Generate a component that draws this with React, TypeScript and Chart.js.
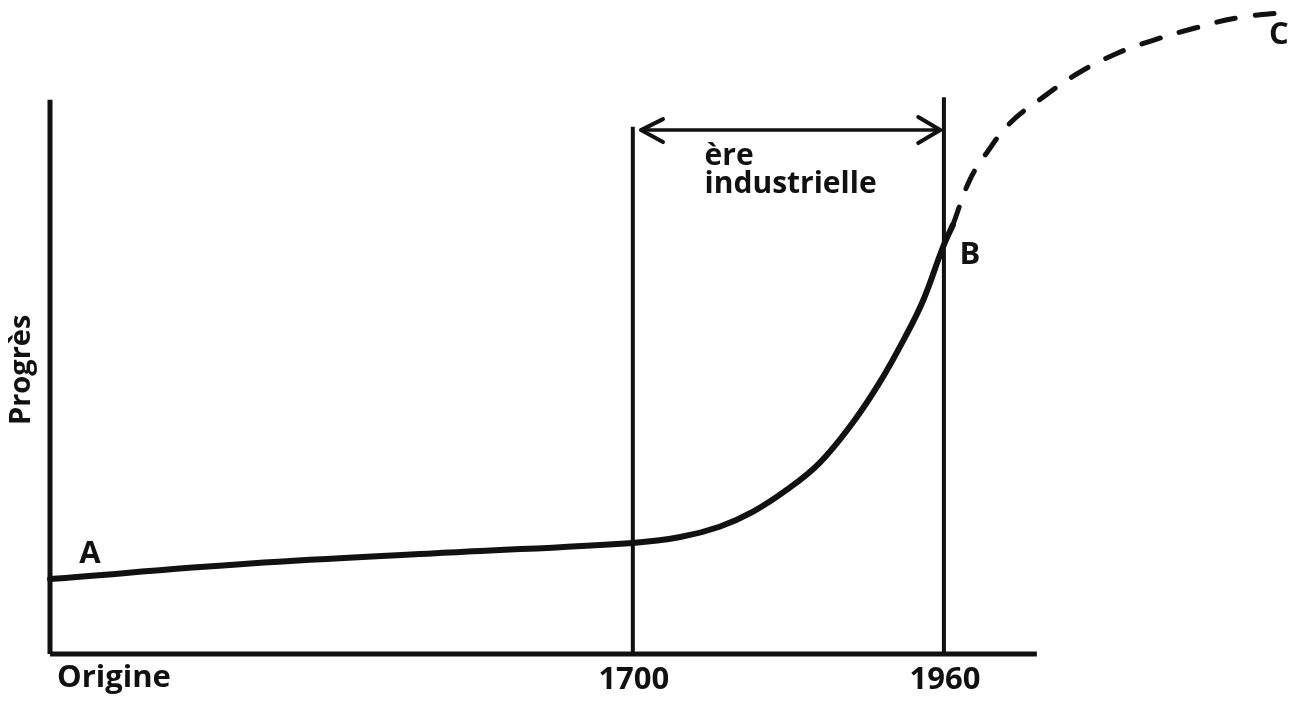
import React, { useEffect, useRef } from 'react';
import { Chart, registerables } from 'chart.js';

Chart.register(...registerables);

// ---- data (abstract time units on x, abstract "progress" units on y) ----
const xTickValues = [0, 65.2, 100];
const xTickLabels = ['Origine', '1700', '1960'];

const historyX = [0, 22.4, 44.7, 65.2, 70.5, 74.9, 78.6, 82.4, 86.1, 89.8, 92.8, 95.6, 97.7, 99.9, 101.0];
const historyY = [11.6, 14.0, 15.7, 17.2, 18.1, 19.7, 22.0, 25.4, 29.6, 35.8, 42.0, 48.9, 54.8, 63.0, 66.4];

const futureX = [101.0, 102.9, 104.8, 107.4, 111.1, 115.0, 119.4, 123.4, 128.1, 132.9, 138.7];
const futureY = [66.4, 73.4, 77.6, 82.2, 86.2, 89.9, 93.0, 95.0, 96.9, 98.5, 99.4];

const xAxisEnd = 110.4;
const yAxisTop = 85.8;
const markerX = [65.2, 100];
const markerTop = [81.6, 86.2];
const eraArrowY = 81.1;
const eraArrowX = [66.0, 99.7];
const eraLabel = ['ère', 'industrielle'];
const pointNames = ['A', 'B', 'C'];
const yTitle = 'Progrès';

const ink = '#111111';
const FONT = '"Open Sans", "DejaVu Sans", sans-serif';

const zip = (xs: number[], ys: number[]) => xs.map((x, i) => ({ x, y: ys[i] }));

const annotations = {
  id: 'annotations',
  afterDatasetsDraw(chart: any) {
    const { ctx, scales } = chart;
    const x = scales.x;
    const y = scales.y;
    ctx.save();
    ctx.fillStyle = ink;
    ctx.strokeStyle = ink;

    // arrow heads
    const ay = y.getPixelForValue(eraArrowY);
    const ax0 = x.getPixelForValue(eraArrowX[0]);
    const ax1 = x.getPixelForValue(eraArrowX[1]);
    ctx.lineWidth = 4;
    ctx.lineCap = 'round';
    ctx.lineJoin = 'round';
    ctx.beginPath();
    ctx.moveTo(ax0 + 23, ay - 11);
    ctx.lineTo(ax0 + 1, ay);
    ctx.lineTo(ax0 + 23, ay + 12);
    ctx.stroke();
    ctx.beginPath();
    ctx.moveTo(ax1 - 23, ay - 13);
    ctx.lineTo(ax1 - 1, ay);
    ctx.lineTo(ax1 - 23, ay + 13);
    ctx.stroke();

    // era label
    ctx.font = `bold 30px ${FONT}`;
    ctx.textBaseline = 'alphabetic';
    ctx.textAlign = 'left';
    const mid = (ax0 + ax1) / 2;
    const w = ctx.measureText(eraLabel[1]).width;
    const left = mid - w / 2;
    ctx.fillText(eraLabel[0], left, ay + 35);
    ctx.fillText(eraLabel[1], left, ay + 63);

    // x tick labels
    const base = y.getPixelForValue(0);
    ctx.font = `bold 31px ${FONT}`;
    xTickValues.forEach((v, i) => {
      const px = x.getPixelForValue(v);
      if (i === 0) {
        ctx.textAlign = 'left';
        ctx.fillText(xTickLabels[i], px + 7, base + 33);
      } else {
        ctx.textAlign = 'center';
        ctx.fillText(xTickLabels[i], px + 1, base + 35);
      }
    });

    // point names
    ctx.font = `bold 31px ${FONT}`;
    ctx.textAlign = 'center';
    ctx.textBaseline = 'middle';
    const a = { x: x.getPixelForValue(historyX[0]), y: y.getPixelForValue(historyY[0]) };
    const bi = historyX.length - 2;
    const b = { x: x.getPixelForValue(historyX[bi]), y: y.getPixelForValue(historyY[bi]) };
    const c = {
      x: x.getPixelForValue(futureX[futureX.length - 1]),
      y: y.getPixelForValue(futureY[futureY.length - 1]),
    };
    ctx.fillText(pointNames[0], a.x + 40, a.y - 25);
    ctx.fillText(pointNames[1], b.x + 27, b.y + 8);
    ctx.fillText(pointNames[2], c.x - 11, c.y + 23);

    // y title
    ctx.save();
    ctx.font = `bold 29px ${FONT}`;
    ctx.translate(30, (y.getPixelForValue(0) + y.getPixelForValue(yAxisTop)) / 2 - 7);
    ctx.rotate(-Math.PI / 2);
    ctx.textAlign = 'center';
    ctx.textBaseline = 'alphabetic';
    ctx.fillText(yTitle, 0, 0);
    ctx.restore();

    ctx.restore();
  },
};

export default function App() {
  const ref = useRef<HTMLCanvasElement | null>(null);

  useEffect(() => {
    if (!ref.current) return;
    const straight = (pts: { x: number; y: number }[], width: number) => ({
      data: pts,
      borderColor: ink,
      borderWidth: width,
      pointRadius: 0,
      tension: 0,
      clip: false as const,
    });
    const chart = new Chart(ref.current, {
      type: 'line',
      data: {
        datasets: [
          straight([{ x: 0, y: 0 }, { x: xAxisEnd, y: 0 }], 5),
          straight([{ x: 0, y: 0 }, { x: 0, y: yAxisTop }], 5),
          straight([{ x: markerX[0], y: 0 }, { x: markerX[0], y: markerTop[0] }], 4),
          straight([{ x: markerX[1], y: 0 }, { x: markerX[1], y: markerTop[1] }], 4),
          straight([{ x: eraArrowX[0], y: eraArrowY }, { x: eraArrowX[1], y: eraArrowY }], 3.5),
          {
            data: zip(historyX, historyY),
            borderColor: ink,
            borderWidth: 6,
            pointRadius: 0,
            tension: 0.4,
            borderCapStyle: 'round',
            clip: false,
          },
          {
            data: zip(futureX, futureY),
            borderColor: ink,
            borderWidth: 5,
            borderDash: [19, 20],
            borderCapStyle: 'round',
            pointRadius: 0,
            tension: 0.4,
            clip: false,
          },
        ] as any,
      },
      options: {
        animation: false,
        responsive: false,
        maintainAspectRatio: false,
        layout: { padding: { left: 50, right: 3, top: 8, bottom: 50 } },
        plugins: { legend: { display: false }, tooltip: { enabled: false } },
        events: [],
        scales: {
          x: { type: 'linear', min: 0, max: 139.5, display: false },
          y: { type: 'linear', min: 0, max: 100, display: false },
        },
      },
      plugins: [annotations],
    });
    return () => chart.destroy();
  }, []);

  return (
    <div style={{ position: 'fixed', left: 0, top: 0, width: 1300, height: 704, background: '#fff' }}>
      <canvas ref={ref} width={1300} height={704} style={{ width: 1300, height: 704, display: 'block' }} />
    </div>
  );
}
